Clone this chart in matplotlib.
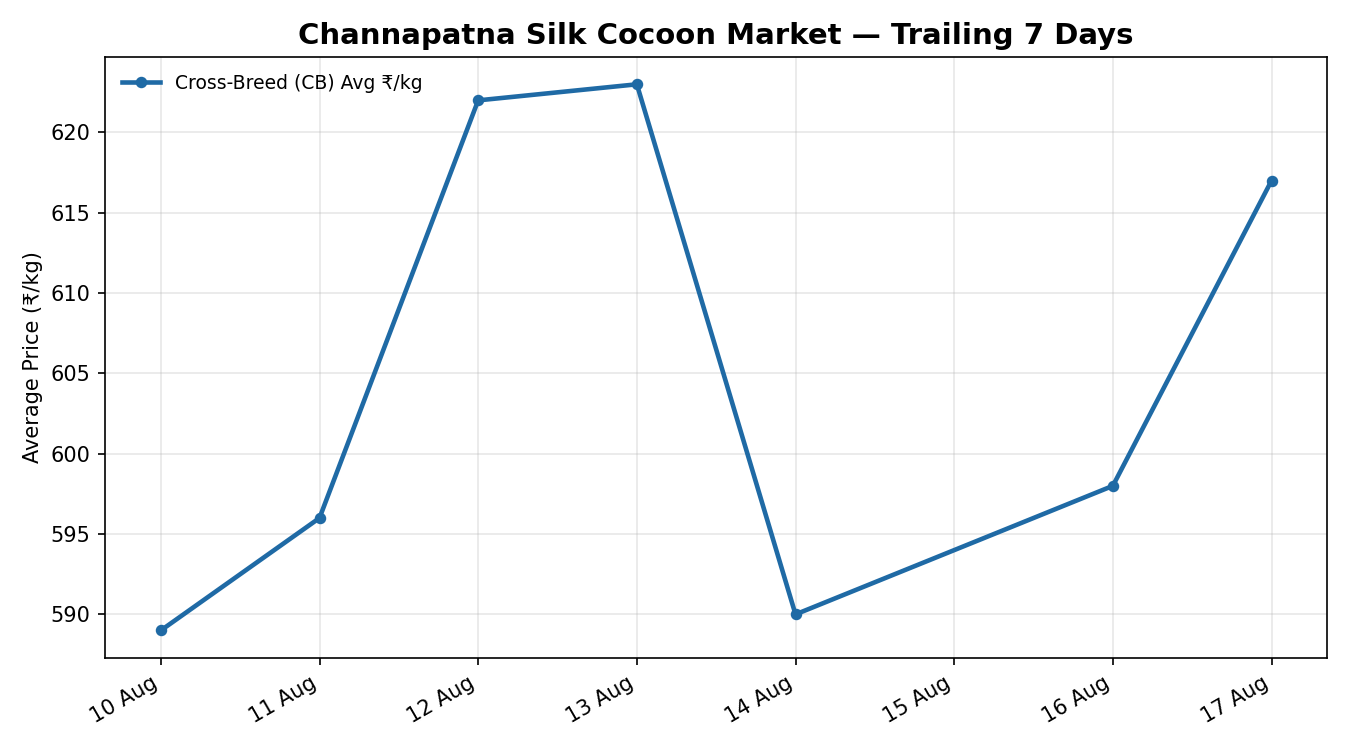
import matplotlib
matplotlib.use("Agg")
import matplotlib.pyplot as plt
import matplotlib.dates as mdates
import numpy as np
import datetime as dt

dates = ["2024-08-10", "2024-08-11", "2024-08-12", "2024-08-13", "2024-08-14", "2024-08-16", "2024-08-17"]
prices = [589, 596, 622, 623, 590, 598, 617]
series_label = "Cross-Breed (CB) Avg ₹/kg"

x = [dt.datetime.strptime(d, "%Y-%m-%d") for d in dates]

fig, ax = plt.subplots(figsize=(9, 5), dpi=150)
ax.plot(x, prices, color="#1f6aa5", linewidth=2.2, marker="o", markersize=4.5, label=series_label)
ax.set_title("Channapatna Silk Cocoon Market — Trailing 7 Days", fontsize=14, fontweight="bold")
ax.set_ylabel("Average Price (₹/kg)")
ax.xaxis.set_major_locator(mdates.DayLocator())
ax.xaxis.set_major_formatter(mdates.DateFormatter("%d Aug"))
ax.grid(True, alpha=0.3)
ax.legend(loc="upper left", frameon=False, fontsize=9)
fig.autofmt_xdate(rotation=30, ha="right")
fig.subplots_adjust(left=0.078, right=0.983, top=0.924, bottom=0.123)
fig.savefig("out.png", dpi=150)
